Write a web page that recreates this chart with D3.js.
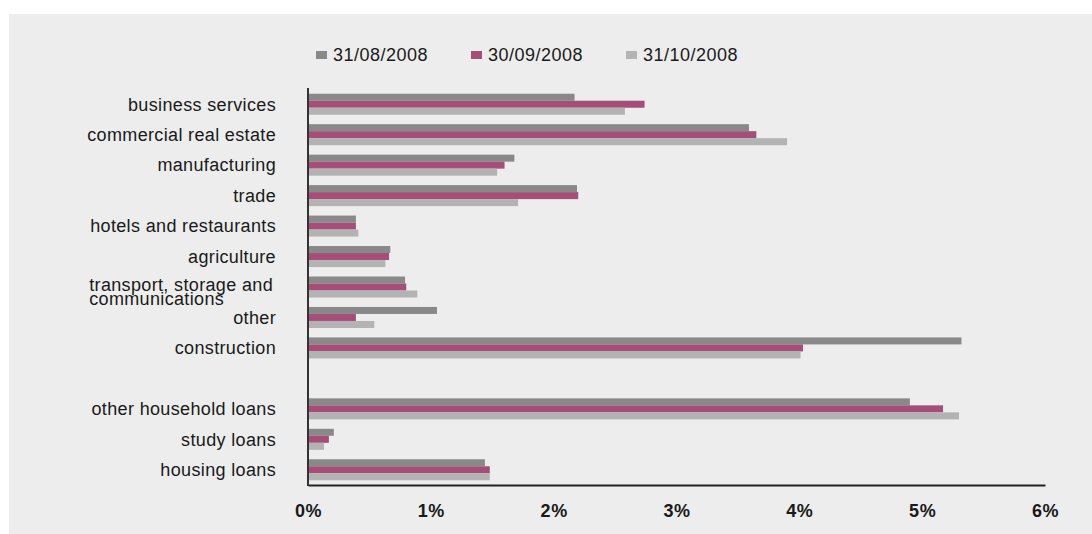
<!DOCTYPE html>
<html>
<head>
<meta charset="utf-8">
<script src="https://cdn.jsdelivr.net/npm/d3@7"></script>
<style>
  html, body { margin: 0; padding: 0; background: #ffffff; }
  svg { display: block; }
  text { font-family: "Liberation Sans", Arial, Helvetica, sans-serif; fill: #1a1a1a; }
</style>
</head>
<body>
<svg id="chart" width="1092" height="534"></svg>
<script>
// Sectors (an empty entry leaves a gap between corporate and household loans)
const categories = [
  "business services",
  "commercial real estate",
  "manufacturing",
  "trade",
  "hotels and restaurants",
  "agriculture",
  "transport, storage and\ncommunications",
  "other",
  "construction",
  "",
  "other household loans",
  "study loans",
  "housing loans"
];

const seriesNames = ["31/08/2008", "30/09/2008", "31/10/2008"];

// Values in percent, one array per date
const aug2008 = [2.17, 3.59, 1.68, 2.19, 0.39, 0.67, 0.79, 1.05, 5.32, null, 4.90, 0.21, 1.44];
const sep2008 = [2.74, 3.65, 1.60, 2.20, 0.39, 0.66, 0.80, 0.39, 4.03, null, 5.17, 0.17, 1.48];
const oct2008 = [2.58, 3.90, 1.54, 1.71, 0.41, 0.63, 0.89, 0.54, 4.01, null, 5.30, 0.13, 1.48];

const xTicks = [0, 1, 2, 3, 4, 5, 6];
const xTickLabels = ["0%", "1%", "2%", "3%", "4%", "5%", "6%"];

const colors = ["#898989", "#a54e78", "#b3b3b3"];
const seriesValues = [aug2008, sep2008, oct2008];

const labelFont = "18px";
const labelSpacing = "0.35px";

const svg = d3.select("#chart");

// Panel background
svg.append("rect")
  .attr("x", 9).attr("y", 14)
  .attr("width", 1092 - 9).attr("height", 534 - 14)
  .attr("fill", "#ecedec");

const x = d3.scaleLinear().domain([0, 6]).range([308, 1045]);

const y = d3.scaleBand()
  .domain(d3.range(categories.length))
  .range([89, 485])
  .paddingInner(0.31)
  .paddingOuter(0.155);

const ySub = d3.scaleBand()
  .domain(d3.range(seriesNames.length))
  .range([0, y.bandwidth()]);

// Bars
const groups = svg.append("g").selectAll("g")
  .data(categories.map((c, i) => i))
  .join("g")
  .attr("transform", i => `translate(0,${y(i)})`);

groups.selectAll("rect")
  .data(i => seriesValues.map((arr, s) => ({ s, v: arr[i] })).filter(d => d.v !== null))
  .join("rect")
  .attr("x", x(0))
  .attr("y", d => ySub(d.s))
  .attr("width", d => x(d.v) - x(0))
  .attr("height", ySub.bandwidth())
  .attr("fill", d => colors[d.s]);

// Category labels
const labelX = 276;
const labels = svg.append("g")
  .style("font-size", labelFont)
  .style("letter-spacing", labelSpacing);
categories.forEach((c, i) => {
  if (!c) return;
  const cy = y(i) + y.bandwidth() / 2;
  const lines = c.split("\n");
  if (lines.length === 1) {
    labels.append("text")
      .attr("x", labelX)
      .attr("y", cy)
      .attr("dy", "0.35em")
      .attr("text-anchor", "end")
      .text(c);
  } else {
    const first = labels.append("text")
      .attr("x", labelX - 3)
      .attr("y", cy + 4)
      .attr("text-anchor", "end")
      .text(lines[0]);
    const startX = labelX - 3 - first.node().getComputedTextLength();
    labels.append("text")
      .attr("x", startX)
      .attr("y", cy + 18)
      .attr("text-anchor", "start")
      .text(lines[1]);
  }
});

// Axes
const xAxis = d3.axisBottom(x)
  .tickValues(xTicks)
  .tickFormat((d, i) => xTickLabels[i])
  .tickSize(0)
  .tickPadding(0);

const axisG = svg.append("g")
  .attr("transform", `translate(0,485)`)
  .call(xAxis);
axisG.select(".domain").attr("stroke", "#222").attr("stroke-width", 2);
axisG.selectAll("text")
  .attr("y", 32)
  .attr("dy", 0)
  .style("font-size", "18px")
  .style("font-weight", "bold")
  .style("letter-spacing", "0.6px")
  .style("font-family", "'Liberation Sans', Arial, sans-serif")
  .attr("fill", "#1a1a1a");

svg.append("line")
  .attr("x1", x(0)).attr("x2", x(0))
  .attr("y1", 88).attr("y2", 486)
  .attr("stroke", "#333")
  .attr("stroke-width", 2);

// Legend
const legendX = [316, 471, 626];
const legend = svg.append("g")
  .style("font-size", labelFont)
  .style("letter-spacing", "0.5px");
seriesNames.forEach((name, s) => {
  legend.append("rect")
    .attr("x", legendX[s]).attr("y", 51)
    .attr("width", 11).attr("height", 8)
    .attr("fill", colors[s]);
  legend.append("text")
    .attr("x", legendX[s] + 17)
    .attr("y", 61)
    .text(name);
});
</script>
</body>
</html>
